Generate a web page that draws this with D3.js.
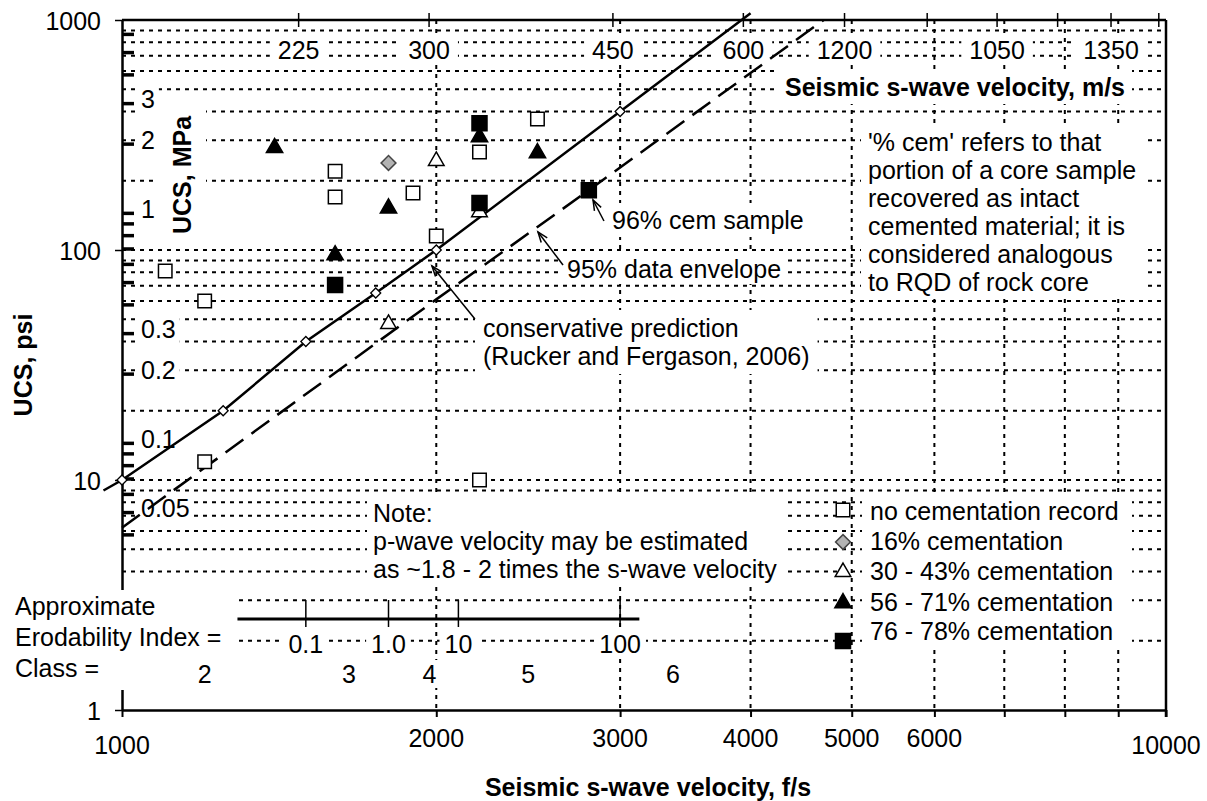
<!DOCTYPE html>
<html>
<head>
<meta charset="utf-8">
<script src="https://cdn.jsdelivr.net/npm/d3@7"></script>
<style>
body { margin: 0; background: #fff; }
svg { font-family: "Liberation Sans", Arial, sans-serif; }
</style>
</head>
<body>
<svg id="chart" width="1207" height="801"></svg>
<script>
// ---- data (velocity in f/s, UCS in psi) ----
var noCemRecord = [[1100, 81], [1200, 60], [1200, 12], [1600, 220], [1600, 170], [1900, 177], [2000, 115], [2200, 267], [2200, 10], [2500, 371]];
var cem16 = [[1800, 239]];
var cem30to43 = [[2000, 244], [1800, 47.7], [2200, 146]];
var cem56to71 = [[1400, 278], [1800, 152], [1600, 95], [2200, 310], [2500, 264]];
var cem76to78 = [[1600, 70.5], [2200, 160], [2200, 356], [2800, 182]];

var predictionLine = [[960, 9], [1000, 10], [1250, 20], [1500, 40], [1750, 65], [2000, 100], [3000, 400], [4000, 1070]];
var predictionMarks = [[1000, 10], [1250, 20], [1500, 40], [1750, 65], [2000, 100], [3000, 400]];
var envelopeLine = [[1000, 6.2], [2000, 61], [2800, 182], [4700, 1000]];

var xTickLabels = [1000, 2000, 3000, 4000, 5000, 6000, 10000];
var yTickLabels = [1, 10, 100, 1000];
var mpaTicks = [6, 5, 4, 3, 2, 1, 0.9, 0.8, 0.7, 0.6, 0.5, 0.4, 0.3, 0.2, 0.1, 0.09, 0.08, 0.07, 0.06, 0.05, 0.04];
var mpaLabels = [3, 2, 1, 0.3, 0.2, 0.1, 0.05];
var msTicks = [450, 600, 900, 1200, 1500, 1800, 2100, 2400, 2700, 3000];
var msLabels = ["225", "300", "450", "600", "1200", "", "1050", "", "1350", ""];

var erodRange = [1290, 3130];
var erodTicks = [1500, 1800, 2100, 3000];
var erodLabels = ["0.1", "1.0", "10", "100"];
var classPos = [1200, 1650, 1970, 2450, 3370];
var classLabels = ["2", "3", "4", "5", "6"];

var legendNames = ["no cementation record", "16% cementation", "30 - 43% cementation", "56 - 71% cementation", "76 - 78% cementation"];

var FS = 25;
var PSI_PER_MPA = 145.04;
var FT_PER_M = 3.2808;

var svg = d3.select("#chart");

var x = d3.scaleLog().domain([1000, 10000]).range([122, 1166]);
var y = d3.scaleLog().domain([1, 1000]).range([710, 20]);
var yMpa = d3.scaleLog().domain([1 / PSI_PER_MPA, 1000 / PSI_PER_MPA]).range([710, 20]);
var xMs = d3.scaleLog().domain([1000 / FT_PER_M, 10000 / FT_PER_M]).range([122, 1166]);

// text with a white box behind it (hides gridlines like the original text boxes)
function textBlock(parent, x0, y0, lines, opt) {
    opt = opt || {};
    var g = parent.append("g");
    if (opt.transform) g.attr("transform", opt.transform);
    var rect = g.append("rect").attr("fill", "#fff");
    var t = g.append("text")
        .attr("font-size", opt.size || FS)
        .attr("font-weight", opt.bold ? "bold" : null)
        .attr("text-anchor", opt.anchor || "start")
        .attr("fill", "#000");
    lines.forEach(function (s, i) {
        t.append("tspan").attr("x", x0).attr("y", y0 + i * (opt.lh || 28)).text(s);
    });
    if (opt.box) {
        rect.attr("x", opt.box[0]).attr("y", opt.box[1]).attr("width", opt.box[2]).attr("height", opt.box[3]);
    } else {
        var bb = t.node().getBBox();
        var px = opt.px == null ? 6 : opt.px, py = opt.py == null ? 2 : opt.py;
        rect.attr("x", bb.x - px).attr("y", bb.y - py).attr("width", bb.width + 2 * px).attr("height", bb.height + 2 * py);
    }
    return g;
}

// ---- gridlines ----
var gGrid = svg.append("g");
var psiGrid = y.ticks().filter(function (d) { return d > 1 && d < 1000; });
var fpsGrid = x.ticks().filter(function (d) { return d > 1000 && d < 10000; });

gGrid.selectAll("line.h").data(psiGrid).enter().append("line")
    .attr("x1", x(1000)).attr("x2", x(10000))
    .attr("y1", function (d) { return y(d); }).attr("y2", function (d) { return y(d); })
    .attr("stroke", "#000").attr("stroke-width", 2).attr("stroke-dasharray", "4 5");

gGrid.selectAll("line.v").data(fpsGrid).enter().append("line")
    .attr("x1", function (d) { return x(d); }).attr("x2", function (d) { return x(d); })
    .attr("y1", y(1000)).attr("y2", y(1))
    .attr("stroke", "#000").attr("stroke-width", 2).attr("stroke-dasharray", "4 5");

// ---- axes ----
var gAxes = svg.append("g");

var bottomAxis = gAxes.append("g").attr("transform", "translate(0," + y(1) + ")")
    .call(d3.axisBottom(x).tickValues(x.ticks()).tickSize(7).tickSizeOuter(0).tickFormat(""));
bottomAxis.select(".domain").attr("stroke-width", 2.5);
bottomAxis.selectAll(".tick line").attr("stroke-width", 2);

var leftAxis = gAxes.append("g").attr("transform", "translate(" + x(1000) + ",0)")
    .call(d3.axisLeft(y).tickValues(yTickLabels).tickSize(7).tickSizeOuter(0).tickPadding(14).tickFormat(d3.format("d")));
leftAxis.select(".domain").attr("stroke-width", 2.5);
leftAxis.selectAll(".tick line").attr("stroke-width", 1.5);
leftAxis.attr("font-size", FS).attr("font-family", null);
leftAxis.selectAll(".tick text").attr("dy", "0.36em");

var mpaAxis = gAxes.append("g").attr("transform", "translate(" + x(1000) + ",0)")
    .call(d3.axisRight(yMpa).tickValues(mpaTicks).tickSize(12).tickFormat(""));
mpaAxis.select(".domain").remove();
mpaAxis.selectAll(".tick line").attr("stroke-width", 3.5);

// top (m/s) and right borders
gAxes.append("line").attr("x1", x(1000)).attr("x2", x(10000)).attr("y1", y(1000)).attr("y2", y(1000))
    .attr("stroke", "#000").attr("stroke-width", 2.5);
gAxes.append("line").attr("x1", x(10000)).attr("x2", x(10000)).attr("y1", y(1000)).attr("y2", y(1) + 7)
    .attr("stroke", "#000").attr("stroke-width", 2.5);
gAxes.selectAll("line.top").data(msTicks).enter().append("line")
    .attr("x1", function (d) { return xMs(d); }).attr("x2", function (d) { return xMs(d); })
    .attr("y1", y(1000) - 7).attr("y2", y(1000) + 7)
    .attr("stroke", "#000").attr("stroke-width", 1.5);

// ---- labels with boxes ----
var gText = svg.append("g");

// bottom tick labels
xTickLabels.forEach(function (v) {
    var major = (v === 1000 || v === 10000);
    gText.append("text").attr("x", x(v)).attr("y", major ? 754 : 747)
        .attr("text-anchor", "middle").attr("font-size", FS).text(v);
});

// top m/s labels
msTicks.forEach(function (v, i) {
    if (msLabels[i]) textBlock(gText, xMs(v), 58.5, [msLabels[i]], { anchor: "middle", px: 8, py: 1 });
});

// MPa labels
mpaLabels.forEach(function (v) {
    textBlock(gText, 141, yMpa(v) - 4 + 9, [String(v)], { px: 4, py: 1 });
});

textBlock(gText, 0, 0, ["UCS, MPa"], { bold: true, anchor: "middle", transform: "translate(191,175) rotate(-90)", px: 8, py: 10 });

gText.append("text").attr("transform", "translate(32,365) rotate(-90)")
    .attr("text-anchor", "middle").attr("font-size", FS).attr("font-weight", "bold").text("UCS, psi");

gText.append("text").attr("x", 648).attr("y", 796)
    .attr("text-anchor", "middle").attr("font-size", FS).attr("font-weight", "bold").text("Seismic s-wave velocity, f/s");

textBlock(gText, 785, 96, ["Seismic s-wave velocity, m/s"], { bold: true, px: 7, py: 3 });

textBlock(gText, 868, 151, ["'% cem' refers to that", "portion of a core sample", "recovered as intact",
    "cemented material; it is", "considered analogous", "to RQD of rock core"], { px: 7, py: 3 });

textBlock(gText, 612, 229, ["96% cem sample"], { px: 6, py: 3 });
textBlock(gText, 567, 278, ["95% data envelope"], { px: 6, py: 1 });
textBlock(gText, 483, 337, ["conservative prediction", "(Rucker and Fergason, 2006)"], { px: 8, py: 4 });

textBlock(gText, 373, 522, ["Note:", "p-wave velocity may be estimated", "as ~1.8 - 2 times the s-wave velocity"], { px: 6, py: 2 });

// erodability block
textBlock(gText, 15, 615, ["Approximate", "Erodability Index =", "Class ="], { lh: 31, box: [0, 590, 234, 100] });

var gErod = svg.append("g");
gErod.append("line").attr("x1", x(erodRange[0])).attr("x2", x(erodRange[1])).attr("y1", 619).attr("y2", 619)
    .attr("stroke", "#000").attr("stroke-width", 3);
gErod.selectAll("line.et").data(erodTicks).enter().append("line")
    .attr("x1", function (d) { return x(d); }).attr("x2", function (d) { return x(d); })
    .attr("y1", 600).attr("y2", 627).attr("stroke", "#000").attr("stroke-width", 1.5);
erodTicks.forEach(function (v, i) {
    textBlock(gErod, x(v), 653, [erodLabels[i]], { anchor: "middle", px: 5, py: 0 });
});
classPos.forEach(function (v, i) {
    textBlock(gErod, x(v), 683, [classLabels[i]], { anchor: "middle", px: 2, py: 0 });
});

// legend
var gLegend = svg.append("g");
var legendRows = [520, 550, 580, 611, 640];
gLegend.append("rect").attr("x", 862).attr("y", 496).attr("width", 270).attr("height", 154).attr("fill", "#fff");
legendNames.forEach(function (s, i) {
    gLegend.append("text").attr("x", 870).attr("y", legendRows[i]).attr("font-size", FS).text(s);
});

// ---- lines ----
var line = d3.line().x(function (d) { return x(d[0]); }).y(function (d) { return y(d[1]); });
var gLines = svg.append("g");
gLines.append("path").datum(predictionLine).attr("d", line)
    .attr("fill", "none").attr("stroke", "#000").attr("stroke-width", 2.5);
gLines.append("path").datum(envelopeLine).attr("d", line)
    .attr("fill", "none").attr("stroke", "#000").attr("stroke-width", 2.5).attr("stroke-dasharray", "22 10");

// ---- markers ----
var gMarks = svg.append("g");
function sym(type, size) { return d3.symbol().type(type).size(size)(); }

gMarks.selectAll("path.pm").data(predictionMarks).enter().append("path")
    .attr("d", sym(d3.symbolSquare, 50))
    .attr("transform", function (d) { return "translate(" + x(d[0]) + "," + y(d[1]) + ") rotate(45)"; })
    .attr("fill", "#fff").attr("stroke", "#000").attr("stroke-width", 1.3);

var series = [
    { data: noCemRecord, type: d3.symbolSquare, size: 182, fill: "#fff", stroke: "#000", rot: 0 },
    { data: cem16, type: d3.symbolSquare, size: 110, fill: "#b3b3b3", stroke: "#444", rot: 45 },
    { data: cem30to43, type: d3.symbolTriangle, size: 105, fill: "#fff", stroke: "#000", rot: 0 },
    { data: cem56to71, type: d3.symbolTriangle, size: 115, fill: "#000", stroke: "#000", rot: 0 },
    { data: cem76to78, type: d3.symbolSquare, size: 225, fill: "#000", stroke: "#000", rot: 0 }
];
series.forEach(function (s) {
    gMarks.selectAll(null).data(s.data).enter().append("path")
        .attr("d", sym(s.type, s.size))
        .attr("transform", function (d) { return "translate(" + x(d[0]) + "," + y(d[1]) + ") rotate(" + s.rot + ")"; })
        .attr("fill", s.fill).attr("stroke", s.stroke).attr("stroke-width", 1.5);
});

// legend symbols
var legendSymY = [510, 542, 572, 603, 641];
series.forEach(function (s, i) {
    gLegend.append("path").attr("d", sym(s.type, s.size))
        .attr("transform", "translate(843," + legendSymY[i] + ") rotate(" + s.rot + ")")
        .attr("fill", s.fill).attr("stroke", s.stroke).attr("stroke-width", 1.5);
});

// ---- arrows (data coords: from text to target) ----
var arrows = [
    [[2178, 50.1], [1981, 85.2]],
    [[2645, 86], [2503, 119.8]],
    [[2895, 133.7], [2826, 165]]
];
var gArrows = svg.append("g");
arrows.forEach(function (a) {
    var x1 = x(a[0][0]), y1 = y(a[0][1]), x2 = x(a[1][0]), y2 = y(a[1][1]);
    var ang = Math.atan2(y2 - y1, x2 - x1);
    var L = 11, sp = 0.35;
    gArrows.append("line").attr("x1", x1).attr("y1", y1).attr("x2", x2).attr("y2", y2)
        .attr("stroke", "#000").attr("stroke-width", 1.5);
    gArrows.append("path")
        .attr("d", "M" + (x2 - L * Math.cos(ang - sp)) + "," + (y2 - L * Math.sin(ang - sp)) +
            "L" + x2 + "," + y2 +
            "L" + (x2 - L * Math.cos(ang + sp)) + "," + (y2 - L * Math.sin(ang + sp)))
        .attr("fill", "none").attr("stroke", "#000").attr("stroke-width", 1.5);
});
</script>
</body>
</html>
